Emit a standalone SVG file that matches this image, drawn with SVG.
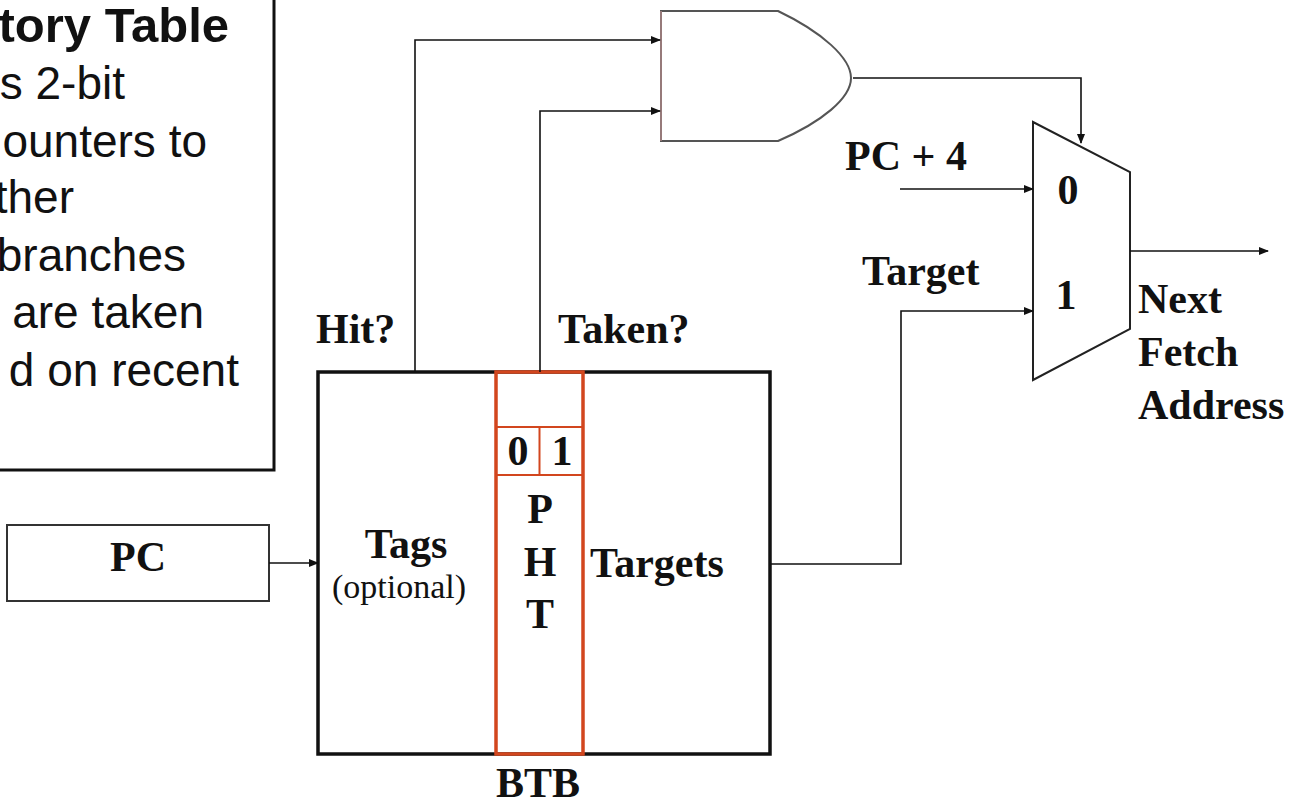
<svg xmlns="http://www.w3.org/2000/svg" width="1295" height="804" viewBox="0 0 1295 804">
<defs>
<marker id="ah" markerWidth="10" markerHeight="8" refX="9" refY="4" orient="auto" markerUnits="userSpaceOnUse">
<path d="M0,0 L10,4 L0,8 Z" fill="#111"/>
</marker>
<style>
.sans{font-family:"Liberation Sans",Arial,sans-serif;font-size:46px;fill:#111}
.title{font-weight:bold;font-size:49px}
.ser{font-family:"Liberation Serif","Times New Roman",serif;font-weight:bold;font-size:42px;fill:#111}
.serr{font-family:"Liberation Serif","Times New Roman",serif;font-size:34px;fill:#111}
.wire{fill:none;stroke:#111;stroke-width:1.6}
.red{fill:none;stroke:#d2461e}
</style>
</defs>
<rect width="1295" height="804" fill="#fff"/>

<g id="note">
<rect x="-10" y="-10" width="284" height="480" fill="#fff" stroke="#111" stroke-width="3"/>
<text class="sans title" x="229" y="42" text-anchor="end">tory Table</text>
<text class="sans" x="125" y="99" text-anchor="end">s 2-bit</text>
<text class="sans" x="207" y="157" text-anchor="end">ounters to</text>
<text class="sans" x="74" y="213" text-anchor="end">ther</text>
<text class="sans" x="186" y="271" text-anchor="end">branches</text>
<text class="sans" x="204" y="328" text-anchor="end">are taken</text>
<text class="sans" x="239" y="386" text-anchor="end">d on recent</text>
</g>

<g id="pc">
<rect x="7" y="525" width="262" height="76" fill="#fff" stroke="#333" stroke-width="2"/>
<text class="ser" x="138" y="571" text-anchor="middle">PC</text>
</g>

<g id="btb">
<rect x="318" y="372" width="452" height="382" fill="#fff" stroke="#111" stroke-width="3.5"/>
<text class="ser" x="406" y="558" text-anchor="middle">Tags</text>
<text class="serr" x="399" y="598" text-anchor="middle">(optional)</text>
<text class="ser" x="590" y="577">Targets</text>
<text class="ser" x="538" y="797" text-anchor="middle">BTB</text>
</g>

<g id="pht">
<rect class="red" x="496" y="372" width="87" height="382" stroke-width="3.5"/>
<line class="red" x1="496" y1="427" x2="583" y2="427" stroke-width="2"/>
<line class="red" x1="496" y1="475" x2="583" y2="475" stroke-width="2"/>
<line class="red" x1="539.5" y1="427" x2="539.5" y2="475" stroke-width="2"/>
<text class="ser" x="518" y="465" text-anchor="middle">0</text>
<text class="ser" x="562" y="465" text-anchor="middle">1</text>
<text class="ser" x="540" y="523" text-anchor="middle">P</text>
<text class="ser" x="540" y="576" text-anchor="middle">H</text>
<text class="ser" x="540" y="628" text-anchor="middle">T</text>
</g>

<g id="gate">
<path d="M661,11 H778 C822,32 851,58 851,78 C851,98 822,122 778,141 H661 Z" fill="#fff" stroke="#555" stroke-width="2"/>
<line x1="661" y1="11" x2="661" y2="141" stroke="#d9a0a0" stroke-width="1"/>
</g>

<g id="mux">
<path d="M1033,122 L1130,172 L1130,329 L1033,380 Z" fill="#fff" stroke="#222" stroke-width="2"/>
<text class="ser" x="1068" y="204" text-anchor="middle">0</text>
<text class="ser" x="1066" y="309" text-anchor="middle">1</text>
</g>

<g id="labels">
<text class="ser" x="316" y="343">Hit?</text>
<text class="ser" x="558" y="343">Taken?</text>
<text class="ser" x="845" y="170">PC + 4</text>
<text class="ser" x="862" y="285">Target</text>
<text class="ser" x="1138" y="313">Next</text>
<text class="ser" x="1138" y="366">Fetch</text>
<text class="ser" x="1138" y="419">Address</text>
</g>

<g id="connectors">
<path class="wire" d="M269,563 H318" marker-end="url(#ah)"/>
<path class="wire" d="M415,372 V40 H660" marker-end="url(#ah)"/>
<path class="wire" d="M540,372 V111 H660" marker-end="url(#ah)"/>
<path class="wire" d="M853,78 H1081 V143" marker-end="url(#ah)"/>
<path class="wire" d="M900,189 H1033" marker-end="url(#ah)"/>
<path class="wire" d="M770,564 H901 V311 H1033" marker-end="url(#ah)"/>
<path class="wire" d="M1130,251 H1268" marker-end="url(#ah)"/>
</g>
</svg>
